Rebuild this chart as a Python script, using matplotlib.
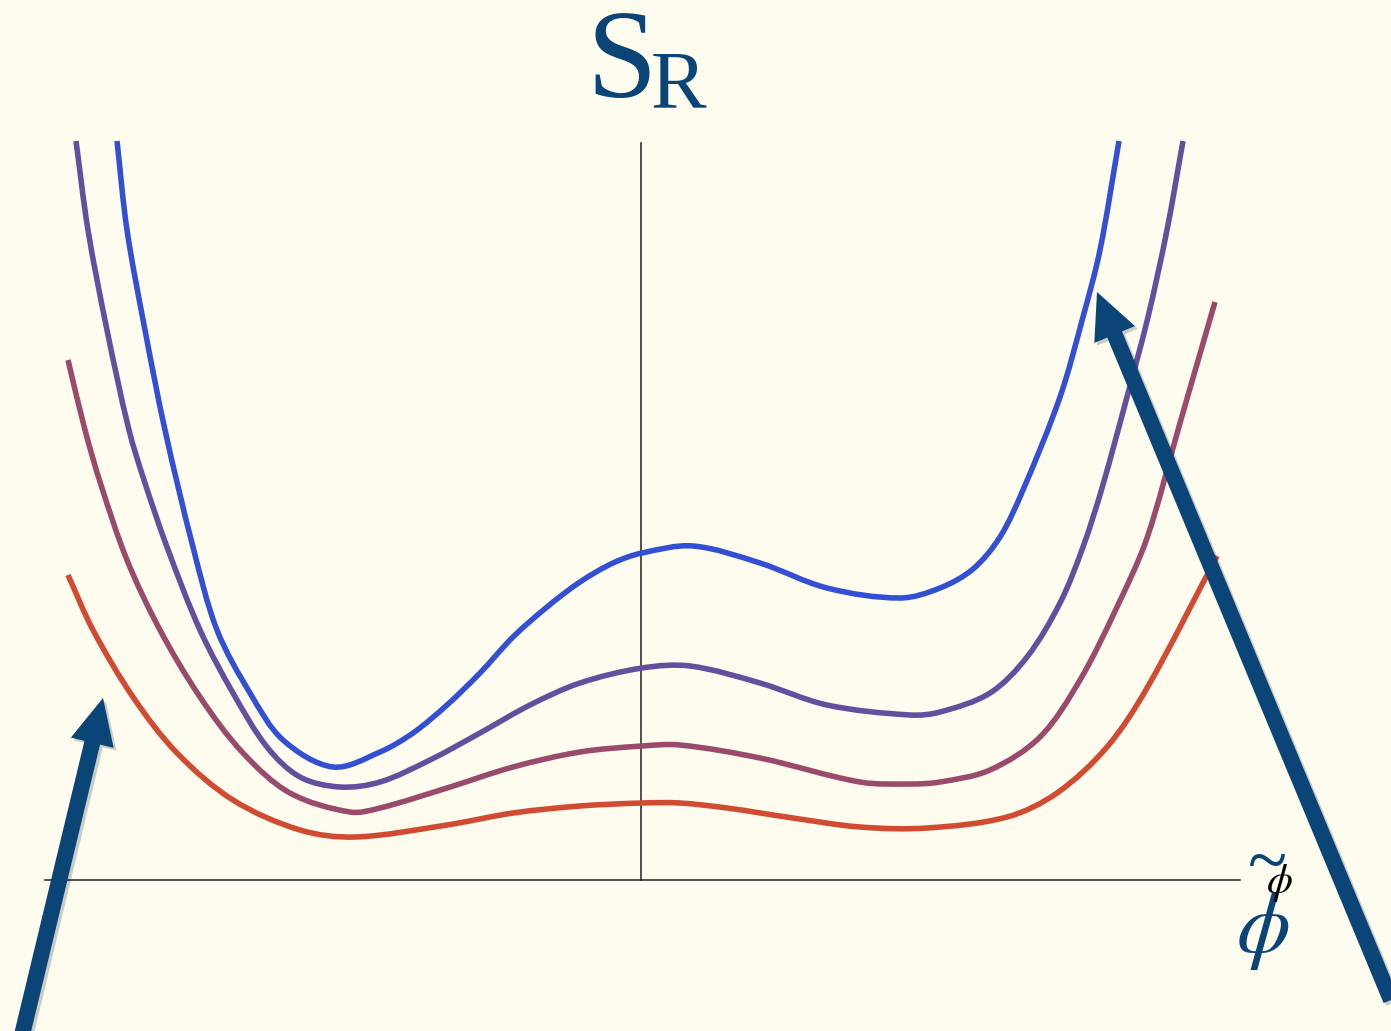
import matplotlib.pyplot as plt
import matplotlib.patheffects as pe
from matplotlib.patches import FancyArrow, PathPatch
from matplotlib.path import Path
import numpy as np

# curves, x = field value, y = potential (arbitrary units)
blue_x = [-5.24, -5.14, -4.96, -4.76, -4.48, -4.24, -3.91, -3.58, -3.08, -2.61, -2.28,
          -1.94, -1.61, -1.28, -0.94, -0.61, -0.28, 0.01, 0.52, 1.19, 1.86, 2.59,
          2.99, 3.32, 3.59, 3.82, 4.19, 4.42, 4.59, 4.78]
blue_y = [7.39, 6.50, 5.50, 4.50, 3.33, 2.50, 1.87, 1.40, 1.13, 1.28, 1.47,
          1.75, 2.07, 2.43, 2.73, 2.98, 3.17, 3.27, 3.34, 3.17, 2.92, 2.82,
          2.92, 3.11, 3.43, 3.90, 4.83, 5.63, 6.30, 7.39]

purple_x = [-5.65, -5.53, -5.34, -5.12, -4.97, -4.74, -4.41, -4.08, -3.74, -3.41, -3.01,
            -2.61, -2.11, -1.61, -1.11, -0.61, 0.01, 0.49, 1.19, 1.86, 2.69, 2.99,
            3.49, 3.86, 4.19, 4.42, 4.61, 4.86, 5.07, 5.26, 5.42]
purple_y = [7.39, 6.50, 5.50, 4.50, 4.00, 3.33, 2.50, 1.87, 1.33, 1.03, 0.93,
            0.98, 1.20, 1.47, 1.75, 1.97, 2.12, 2.14, 1.97, 1.75, 1.65, 1.68,
            1.87, 2.23, 2.77, 3.33, 3.92, 4.83, 5.63, 6.50, 7.39]

mauve_x = [-5.73, -5.56, -5.40, -5.14, -4.81, -4.41, -3.98, -3.51, -2.91, -2.61, -1.94,
           -1.28, -0.61, 0.01, 0.39, 1.19, 2.19, 2.69, 2.99, 3.49, 3.99, 4.39,
           4.76, 5.06, 5.39, 5.74]
mauve_y = [5.20, 4.50, 3.95, 3.20, 2.50, 1.83, 1.27, 0.87, 0.68, 0.72, 0.92,
           1.13, 1.28, 1.34, 1.35, 1.22, 0.98, 0.96, 0.98, 1.10, 1.43, 2.00,
           2.73, 3.42, 4.57, 5.78]

red_x = [-5.73, -5.48, -5.08, -4.64, -4.08, -3.41, -2.86, -1.94, -1.28, -0.61, 0.01,
         0.39, 0.86, 1.52, 2.19, 2.86, 3.66, 4.16, 4.66, 5.06, 5.76]
red_y = [3.05, 2.50, 1.83, 1.27, 0.80, 0.50, 0.43, 0.55, 0.67, 0.74, 0.77,
         0.77, 0.72, 0.62, 0.53, 0.52, 0.63, 0.87, 1.33, 1.92, 3.24]

curves = [
    (red_x, red_y, '#d04b32'),
    (mauve_x, mauve_y, '#9a4b6b'),
    (purple_x, purple_y, '#644f9f'),
    (blue_x, blue_y, '#3350d4'),
]

# arrows: (tail, tip)
arrow_tails = [(-6.19, -1.55), (7.50, -1.20)]
arrow_tips = [(-5.38, 1.82), (4.56, 5.88)]

bg = '#fdfcee'
navy = '#0b4577'


def smooth_path(xs, ys):
    # chord-length catmull-rom through the read points, as cubic bezier segments
    p = np.column_stack([xs, ys])
    d = np.hypot(*np.diff(p, axis=0).T)
    t = np.concatenate([[0], np.cumsum(d)])
    n = len(p)
    m = np.zeros_like(p)
    m[0] = (p[1] - p[0]) / d[0]
    m[-1] = (p[-1] - p[-2]) / d[-1]
    for i in range(1, n - 1):
        m[i] = (p[i + 1] - p[i - 1]) / (t[i + 1] - t[i - 1])
    verts = [p[0]]
    codes = [Path.MOVETO]
    for i in range(n - 1):
        h = d[i] / 3
        verts += [p[i] + m[i] * h, p[i + 1] - m[i + 1] * h, p[i + 1]]
        codes += [Path.CURVE4] * 3
    return Path(verts, codes)


fig = plt.figure(figsize=(13.91, 10.31), dpi=100, facecolor=bg)
ax = fig.add_axes([0, 0, 1, 1])
ax.set_facecolor(bg)
ax.set_xlim(-6.41, 7.50)
ax.set_ylim(-1.51, 8.80)
ax.axis('off')

# axes of the sketch
ax.plot([0, 0], [0, 7.37], color='#222222', lw=1.1, zorder=2)
ax.plot([-5.96, 5.99], [0, 0], color='#222222', lw=1.1, zorder=2)

for x, y, c in curves:
    ax.add_patch(PathPatch(smooth_path(x, y), fill=False, edgecolor=c, lw=4,
                           capstyle='butt', zorder=3))

shadow = [pe.SimplePatchShadow(offset=(2, -2), alpha=0.2), pe.Normal()]
for (x0, y0), (x1, y1) in zip(arrow_tails, arrow_tips):
    arr = FancyArrow(x0, y0, x1 - x0, y1 - y0, width=0.16, head_width=0.44,
                     head_length=0.46, length_includes_head=True,
                     color=navy, lw=0, zorder=5)
    arr.set_path_effects(shadow)
    ax.add_patch(arr)

# title S_R
ax.text(-0.54, 7.83, 'S', family='Liberation Serif', fontsize=91, color=navy,
        ha='left', va='baseline')
ax.text(0.10, 7.73, 'R', family='Liberation Serif', fontsize=60, color=navy,
        ha='left', va='baseline')

# phi tilde label
plt.rcParams['mathtext.fontset'] = 'stix'
ax.text(6.22, -0.50, r'$\phi$', fontsize=62, color=navy, ha='center', va='center')
ax.text(6.27, 0.14, '~', family='Liberation Serif', fontsize=52, color=navy,
        ha='center', va='center')
ax.text(6.38, -0.03, r'$\phi$', fontsize=30, color='black', ha='center', va='center')

fig.savefig('out.png', dpi=100, facecolor=bg)
